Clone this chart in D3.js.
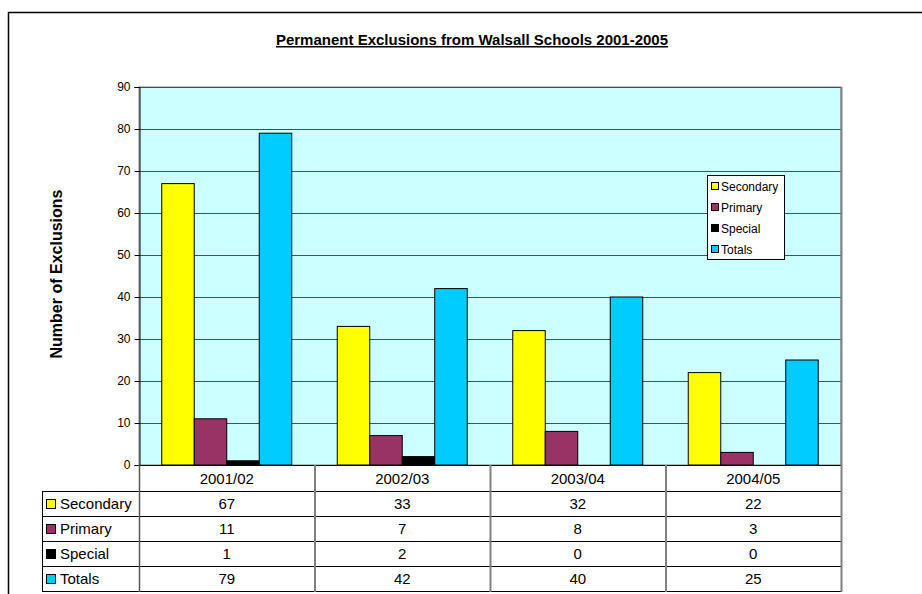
<!DOCTYPE html>
<html><head><meta charset="utf-8">
<script src="https://cdn.jsdelivr.net/npm/d3@7"></script>
<style>body{margin:0;background:#fff;}svg{display:block;font-family:"Liberation Sans",Arial,sans-serif;}</style>
</head><body><svg id="c" width="922" height="594"></svg>
<script>
const categories = ["2001/02","2002/03","2003/04","2004/05"];
const seriesNames = ["Secondary","Primary","Special","Totals"];
const secondary = [67,33,32,22];
const primary = [11,7,8,3];
const special = [1,2,0,0];
const totals = [79,42,40,25];
const yTicks = [0,10,20,30,40,50,60,70,80,90];
const colors = ["#FFFF00","#993366","#000000","#00CCFF"];
const values = [secondary, primary, special, totals];

const svg = d3.select("#c");
const L = 139, R = 841, T = 87, B = 465;
// outer frame
svg.append("rect").attr("x",8.5).attr("y",12.5).attr("width",930).attr("height",600)
  .attr("fill","#fff").attr("stroke","#000").attr("stroke-width",1.5);

// title
svg.append("text").attr("x",472).attr("y",45).attr("text-anchor","middle")
  .attr("font-size",15).attr("font-weight","bold").attr("text-decoration","underline")
  .text("Permanent Exclusions from Walsall Schools 2001-2005");

const x = d3.scaleBand().domain(categories).range([L,R]).paddingInner(0).paddingOuter(0);
const y = d3.scaleLinear().domain([0,90]).range([B,T]);
const gap = 45.5/175.5;
const barW = x.bandwidth()*(1-gap)/seriesNames.length;
const off = x.bandwidth()*gap/2;

svg.append("rect").attr("x",L).attr("y",T).attr("width",R-L).attr("height",B-T)
  .attr("fill","#CCFFFF").attr("stroke","#808080").attr("stroke-width",1);

// gridlines
svg.append("g").selectAll("line").data(yTicks.filter(d=>d>0)).join("line")
  .attr("x1",L).attr("x2",R).attr("y1",d=>y(d)+0.5).attr("y2",d=>y(d)+0.5)
  .attr("stroke","#4d4d4d").attr("stroke-width",1);

// axis
const ax = svg.append("g").attr("transform",`translate(${L+0.5},0)`)
  .call(d3.axisLeft(y).tickValues(yTicks).tickSize(5).tickPadding(4));
ax.select(".domain").attr("stroke","#000");
ax.selectAll("text").attr("font-size",12).attr("font-family","Liberation Sans, Arial, sans-serif").attr("fill","#000");
ax.selectAll("line").attr("stroke","#000");

// bars
categories.forEach((c,ci)=>{
  values.forEach((vals,si)=>{
    const v = vals[ci];
    const bx = x(c)+off+si*barW;
    svg.append("rect").attr("x",bx).attr("y",y(v)).attr("width",barW).attr("height",B-y(v))
      .attr("fill",colors[si]).attr("stroke","#000").attr("stroke-width",1);
  });
});

// baseline
svg.append("line").attr("x1",L).attr("x2",R).attr("y1",B+0.5).attr("y2",B+0.5).attr("stroke","#000");

// y label
svg.append("text").attr("transform","translate(62,274) rotate(-90)").attr("text-anchor","middle")
  .attr("font-size",16).attr("font-weight","bold").text("Number of Exclusions");

// data table
const rowH = 25;
const hdrB = 491;
const tbl = svg.append("g");
categories.forEach(c=>{
  tbl.append("text").attr("x",x(c)+x.bandwidth()/2).attr("y",hdrB-7).attr("text-anchor","middle")
    .attr("font-size",15).text(c);
});
seriesNames.forEach((s,si)=>{
  const ry = hdrB + si*rowH;
  tbl.append("line").attr("x1",42).attr("x2",R).attr("y1",ry+0.5).attr("y2",ry+0.5).attr("stroke","#000");
  tbl.append("rect").attr("x",46.5).attr("y",ry+8.5).attr("width",9).attr("height",9)
    .attr("fill",colors[si]).attr("stroke","#000");
  tbl.append("text").attr("x",60).attr("y",ry+18).attr("font-size",15).text(s);
  categories.forEach((c,ci)=>{
    tbl.append("text").attr("x",x(c)+x.bandwidth()/2).attr("y",ry+18).attr("text-anchor","middle")
      .attr("font-size",15).text(values[si][ci]);
  });
});
const tB = hdrB + 4*rowH;
tbl.append("line").attr("x1",42).attr("x2",R).attr("y1",tB+0.5).attr("y2",tB+0.5).attr("stroke","#000");
tbl.append("line").attr("x1",42.5).attr("x2",42.5).attr("y1",hdrB).attr("y2",tB+1).attr("stroke","#000");
categories.forEach((c,ci)=>{
  tbl.append("line").attr("x1",x(c)+0.5).attr("x2",x(c)+0.5).attr("y1",B).attr("y2",tB+1)
    .attr("stroke",ci===0?"#555":"#808080").attr("stroke-width",ci===0?1.5:2);
});
tbl.append("line").attr("x1",R+0.5).attr("x2",R+0.5).attr("y1",T).attr("y2",tB+1).attr("stroke","#808080").attr("stroke-width",2);

// legend
const lg = svg.append("g");
lg.append("rect").attr("x",707.5).attr("y",175.5).attr("width",77).attr("height",84)
  .attr("fill","#fff").attr("stroke","#000");
seriesNames.forEach((s,si)=>{
  const ly = 186 + si*21;
  lg.append("rect").attr("x",711.5).attr("y",ly-3.5).attr("width",7).attr("height",7)
    .attr("fill",colors[si]).attr("stroke","#000");
  lg.append("text").attr("x",721).attr("y",ly+4.5).attr("font-size",12).text(s);
});
</script></body></html>
